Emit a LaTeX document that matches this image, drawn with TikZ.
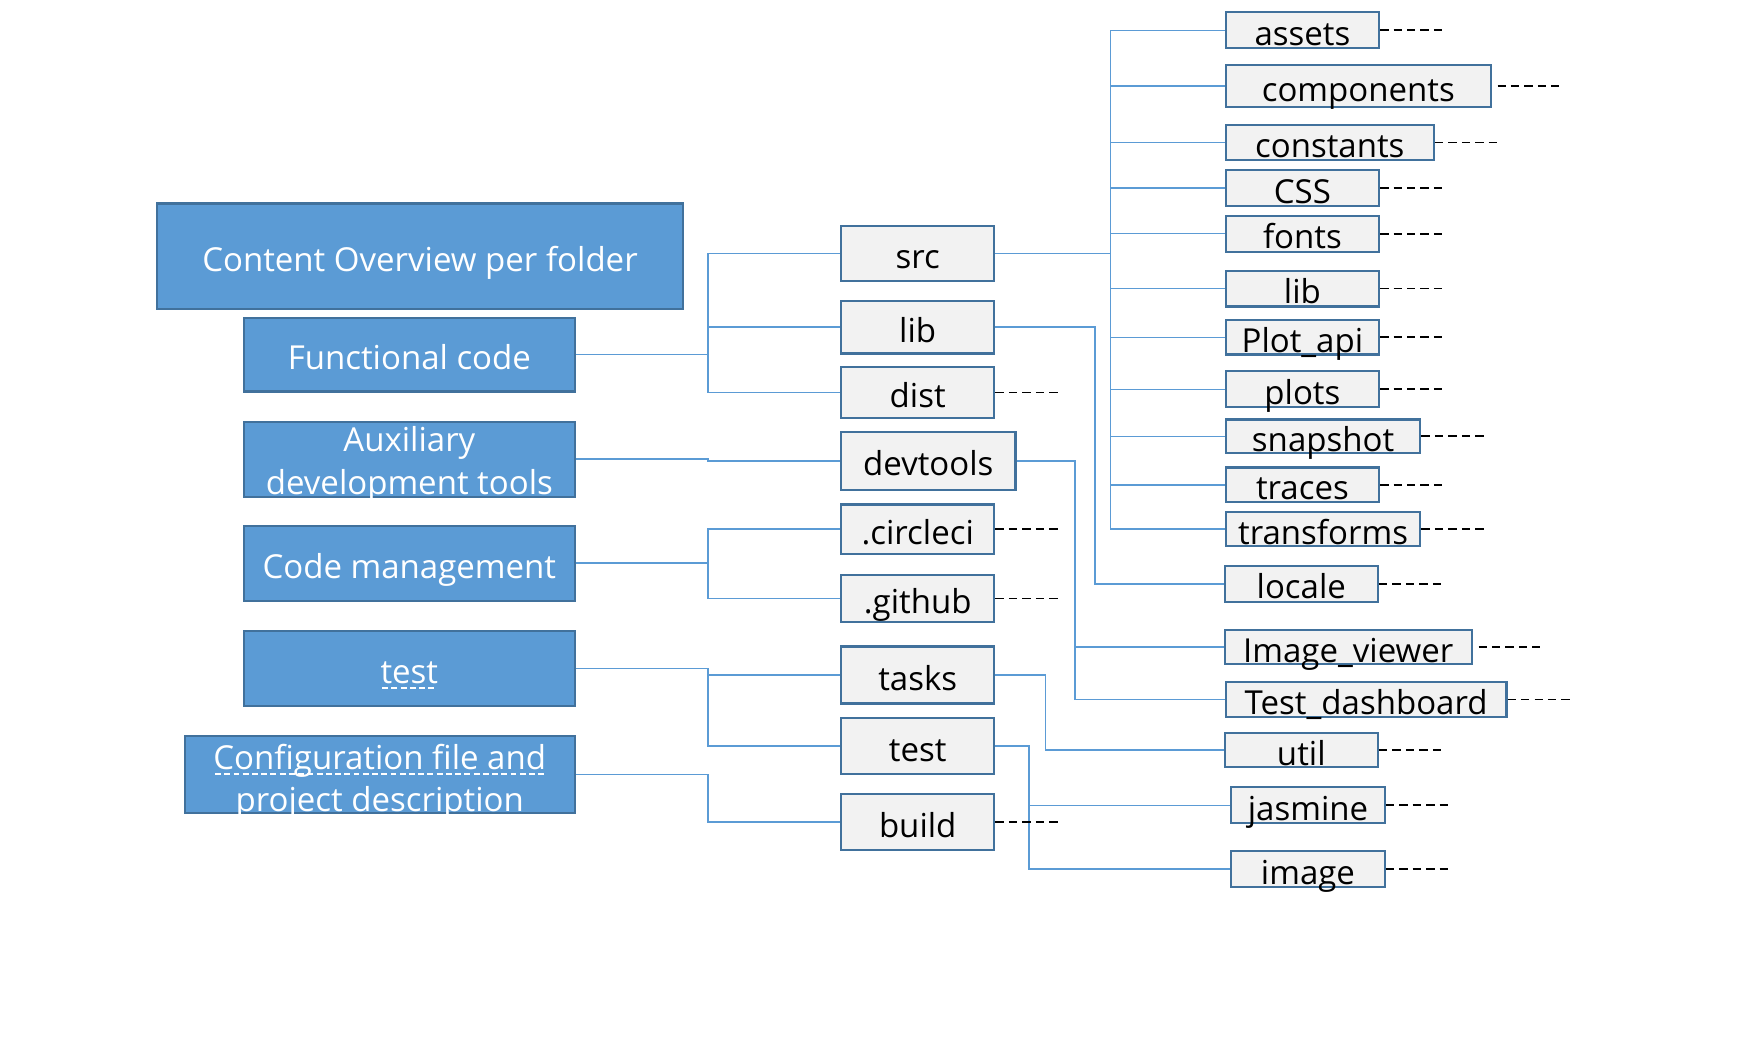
\documentclass[tikz,border=0pt]{standalone}
\usepackage{fontspec}
\setmainfont{Open Sans}
\usepackage{tikz}
\usepackage{color}

\definecolor{boxblue}{HTML}{5B9BD5}
\definecolor{edgeblue}{HTML}{41719C}
\definecolor{cellgray}{HTML}{F2F2F2}

\newcommand\spellline[1]{\setbox0\hbox{#1}\rlap{\lower2.9pt\hbox to \wd0{\leaders\hbox to 4.7pt{\hss\vrule width 3pt height .9pt depth 0pt\hss}\hfill}}\box0}
\newcommand\twolines[2]{\begin{tabular}[t]{@{}c@{}}#1\\#2\end{tabular}}

\begin{document}
\begin{tikzpicture}[x=0.02cm, y=-0.02cm]%
	\tikzstyle{topic}=[rectangle, draw=edgeblue, fill=boxblue, line width=1.1pt, text=white, inner sep=0pt, font=\fontsize{16.8}{21.5}\selectfont, text height=0.56cm, text depth=0.02cm];
	\tikzstyle{folder}=[rectangle, draw=edgeblue, fill=cellgray, line width=1.1pt, inner sep=0pt, font=\fontsize{16.8}{21.5}\selectfont, text height=0.56cm, text depth=0.02cm, minimum width=2.74cm];
	\tikzstyle{leaf}=[folder, anchor=west, minimum height=0.64cm];
	\tikzstyle{link}=[draw=boxblue, line width=0.7pt];
	\tikzstyle{stub}=[draw=black, line width=0.9pt, dash pattern=on 4.3pt off 2.55pt];
	\useasboundingbox (0, 0) rectangle (1570, 933);
	\node (overview) at (375.5, 229) [topic, minimum width=9.42cm, minimum height=1.88cm] {Content Overview per folder};
	\node (functional) at (366, 317) [topic, minimum width=5.92cm, minimum height=1.32cm] {Functional code};
	\node (auxiliary) at (366, 410.5) [topic, minimum width=5.92cm, minimum height=1.34cm, text height=0.5cm, text depth=0.76cm] {\twolines{Auxiliary}{development tools}};
	\node (codemgmt) at (366, 503.5) [topic, minimum width=5.92cm, minimum height=1.34cm] {Code management};
	\node (testing) at (366, 597.5) [topic, minimum width=5.92cm, minimum height=1.34cm] {\spellline{test}};
	\node (config) at (339.5, 692.5) [topic, minimum width=6.98cm, minimum height=1.38cm, text height=0.5cm, text depth=0.68cm] {\twolines{\spellline{Configuration file and}}{project description}};
	\node (src) at (820.5, 226.5) [folder, minimum height=0.98cm] {src};
	\node (lib) at (820.5, 292.5) [folder, minimum height=0.94cm] {lib};
	\node (dist) at (820.5, 351) [folder, minimum height=0.92cm] {dist};
	\node (devtools) at (830, 412) [folder, minimum width=3.12cm, minimum height=1.04cm] {devtools};
	\node (circleci) at (820.5, 473) [folder, minimum height=0.88cm] {.circleci};
	\node (github) at (820.5, 535) [folder, minimum height=0.84cm] {.github};
	\node (tasks) at (820.5, 603.5) [folder, minimum height=1.02cm] {tasks};
	\node (test) at (820.5, 667) [folder, minimum height=1cm] {test};
	\node (build) at (820.5, 735) [folder, minimum height=1cm] {build};
	\node (assets) at (1095, 27) [leaf] {assets};
	\node (components) at (1095, 77) [leaf, minimum width=4.74cm, minimum height=0.76cm] {components};
	\node (constants) at (1095, 127.5) [leaf, minimum width=3.72cm, minimum height=0.62cm] {constants};
	\node (css) at (1095, 168) [leaf] {CSS};
	\node (fonts) at (1095, 209) [leaf] {fonts};
	\node (srclib) at (1095, 258) [leaf] {lib};
	\node (plotapi) at (1095, 301.5) [leaf, minimum height=0.62cm] {Plot\_api};
	\node (plots) at (1095, 348) [leaf] {plots};
	\node (snapshot) at (1095, 390) [leaf, minimum width=3.48cm, minimum height=0.6cm] {snapshot};
	\node (traces) at (1095, 433.5) [leaf, minimum height=0.62cm] {traces};
	\node (transforms) at (1095, 473) [leaf, minimum width=3.48cm, minimum height=0.6cm] {transforms};
	\node (locale) at (1094, 522) [leaf] {locale};
	\node (imageviewer) at (1094, 578.5) [leaf, minimum width=4.42cm, minimum height=0.62cm] {Image\_viewer};
	\node (testdashboard) at (1095, 625.5) [leaf, minimum width=5.02cm, minimum height=0.62cm] {Test\_dashboard};
	\node (util) at (1094, 670.5) [leaf, minimum height=0.62cm] {util};
	\node (jasmine) at (1100, 720) [leaf] {jasmine};
	\node (image) at (1100, 777) [leaf] {image};
	\coordinate (j1) at (633, 0);
	\coordinate (j2) at (993, 0);
	\coordinate (j3) at (979, 0);
	\coordinate (j4) at (961, 0);
	\coordinate (j5) at (935, 0);
	\coordinate (j6) at (920, 0);
	\foreach \t in {src, lib, dist}
		\draw[link] (functional.east) -| (j1 |- \t.west) -- (\t.west);
	\draw[link] (auxiliary.east) -| (j1 |- devtools.west) -- (devtools.west);
	\foreach \t in {circleci, github}
		\draw[link] (codemgmt.east) -| (j1 |- \t.west) -- (\t.west);
	\foreach \t in {tasks, test}
		\draw[link] (testing.east) -| (j1 |- \t.west) -- (\t.west);
	\draw[link] (config.east) -| (j1 |- build.west) -- (build.west);
	\foreach \t in {assets, components, constants, css, fonts, srclib, plotapi, plots, snapshot, traces, transforms}
		\draw[link] (src.east) -| (j2 |- \t.west) -- (\t.west);
	\draw[link] (lib.east) -| (j3 |- locale.west) -- (locale.west);
	\foreach \t in {imageviewer, testdashboard}
		\draw[link] (devtools.east) -| (j4 |- \t.west) -- (\t.west);
	\draw[link] (tasks.east) -| (j5 |- util.west) -- (util.west);
	\foreach \t in {jasmine, image}
		\draw[link] (test.east) -| (j6 |- \t.west) -- (\t.west);
	\foreach \t in {dist, circleci, github, build, assets, constants, css, fonts, srclib, plotapi, plots, snapshot, traces, transforms, locale, testdashboard, util, jasmine, image}
		\draw[stub] (\t.east) -- ++(56, 0);
	\foreach \t in {components, imageviewer}
		\draw[stub] ([xshift=0.1cm]\t.east) -- ++(55, 0);
\end{tikzpicture}
\end{document}
